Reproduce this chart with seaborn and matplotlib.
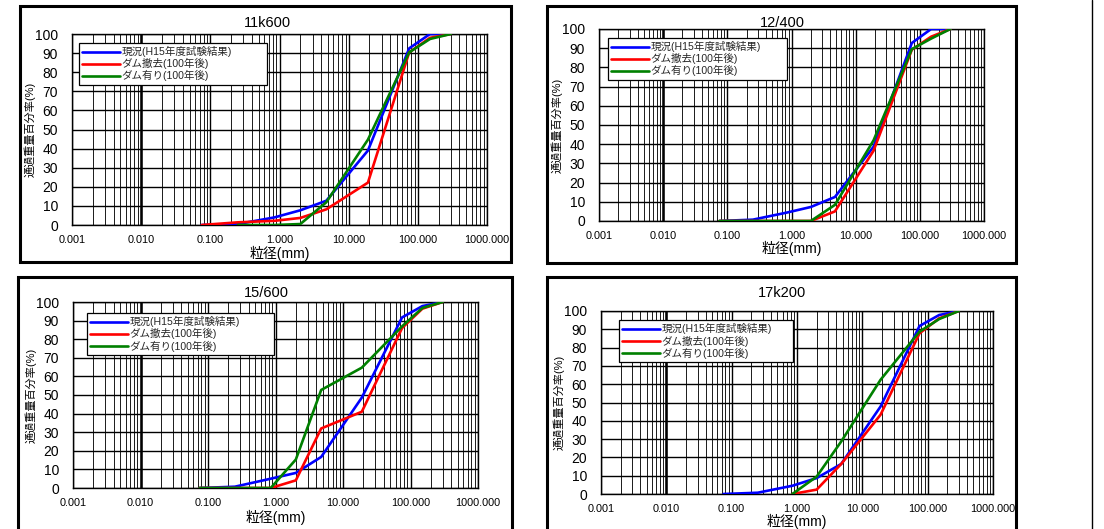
import numpy as np
import pandas as pd
import matplotlib
matplotlib.use("Agg")
import matplotlib.pyplot as plt
import matplotlib.ticker as mticker
from matplotlib.patches import Rectangle
from matplotlib.lines import Line2D
import seaborn as sns

sns.set_theme(style="white")
plt.rcParams["font.family"] = ["Liberation Sans", "Noto Sans CJK JP", "DejaVu Sans"]

# sieve sizes (mm)
sizes = [0.075, 0.25, 0.85, 2.0, 4.75, 19.0, 75.0, 150.0, 300.0]

series_names = ["現況(H15年度試験結果)", "ダム撤去(100年後)", "ダム有り(100年後)"]
series_colors = ["#0000FF", "#FF0000", "#008000"]

titles = ["11k600", "12/400", "15/600", "17k200"]

# percent passing for each section
p11k600_now = [0, 0.5, 4, 7.7, 12.7, 39, 92.5, 100, 100]
p11k600_removed = [0, 1.4, 2.2, 3.7, 8.2, 22.2, 90.4, 98, 100]
p11k600_dam = [np.nan, 0, 0, 0.5, 11.9, 44.7, 90.4, 97.4, 100]

p12_400_now = [0, 0.7, 4.4, 7.3, 12.5, 38.7, 92.7, 100, 100]
p12_400_removed = [0, 0, 0, 0, 5, 36.6, 89.2, 96, 100]
p12_400_dam = [0, 0, 0, 0, 8.4, 42, 89.5, 95, 100]

p15_600_now = [0, 0.7, 5, 8.1, 16.7, 48.6, 91.7, 97.8, 100]
p15_600_removed = [0, 0, 0, 4.1, 32, 41, 86, 96.4, 100]
p15_600_dam = [0, 0, 0, 15.3, 52.7, 64.7, 86.9, 96.8, 100]

p17k200_now = [0, 0.7, 4.5, 8.7, 16.4, 47.8, 91.8, 97.8, 100]
p17k200_removed = [np.nan, np.nan, 0, 2.4, 16.4, 43.3, 87.8, 96, 100]
p17k200_dam = [np.nan, np.nan, 0, 9.5, 28.7, 62.4, 88.7, 95.6, 100]

panel_values = [
    [p11k600_now, p11k600_removed, p11k600_dam],
    [p12_400_now, p12_400_removed, p12_400_dam],
    [p15_600_now, p15_600_removed, p15_600_dam],
    [p17k200_now, p17k200_removed, p17k200_dam],
]

xtick_vals = [0.001, 0.01, 0.1, 1, 10, 100, 1000]
xtick_labels = ["0.001", "0.010", "0.100", "1.000", "10.000", "100.000", "1000.000"]
ytick_vals = list(range(0, 101, 10))

W, H = 1104, 529
fig = plt.figure(figsize=(W / 100, H / 100), dpi=100)
fig.patch.set_facecolor("white")


def px_box(left, top, right, bottom):
    return [left / W, 1 - bottom / H, (right - left) / W, (bottom - top) / H]


# layout in pixels: axes box, frame box, title centre, legend box, x-label centre offset
layout = [
    dict(ax=(72, 34, 487, 225), frame=(20, 6, 511, 262), title=(267, 23), leg=(79, 45, 267), xl=28),
    dict(ax=(599, 29, 984, 221), frame=(547, 6, 1016, 263), title=(782, 23), leg=(608, 40, 787), xl=27),
    dict(ax=(73, 302, 478, 488), frame=(18, 277, 512, 545), title=(266, 293), leg=(87, 315, 274), xl=29),
    dict(ax=(601, 311, 993, 494), frame=(547, 277, 1016, 545), title=(782, 293), leg=(619, 322, 793), xl=27),
]

for i, lay in enumerate(layout):
    l, t, r, b = lay["ax"]
    ax = fig.add_axes(px_box(l, t, r, b))

    rows = []
    for name, vals in zip(series_names, panel_values[i]):
        for s, v in zip(sizes, vals):
            if not np.isnan(v):
                rows.append({"size": s, "pct": v, "series": name})
    df = pd.DataFrame(rows)

    sns.lineplot(data=df, x="size", y="pct", hue="series", hue_order=series_names,
                 palette=series_colors, estimator=None, sort=True, linewidth=1.9,
                 ax=ax, legend=False, zorder=5)

    ax.set_xscale("log")
    ax.set_xlim(0.001, 1000)
    ax.set_ylim(0, 100)
    ax.set_xticks(xtick_vals)
    ax.set_xticklabels(xtick_labels)
    ax.xaxis.set_minor_locator(mticker.LogLocator(base=10, subs=np.arange(2, 10), numticks=100))
    ax.xaxis.set_minor_formatter(mticker.NullFormatter())
    ax.set_yticks(ytick_vals)
    ax.grid(which="major", axis="both", color="black", linewidth=1.0)
    ax.grid(which="minor", axis="x", color="#1a1a1a", linewidth=0.7)
    ax.axvline(0.01, color="black", linewidth=1.8, zorder=2)
    ax.tick_params(axis="x", which="both", length=0, labelsize=7.8, pad=7, colors="black")
    ax.tick_params(axis="y", which="both", length=0, labelsize=10, pad=10, colors="black")
    for sp in ax.spines.values():
        sp.set_color("black")
        sp.set_linewidth(1.0)

    ax.set_xlabel("粒径(mm)", fontsize=10, color="black", va="center")
    ax.xaxis.set_label_coords(0.5, -lay["xl"] / (b - t))
    ax.set_ylabel("通過重量百分率(%)", fontsize=8, color="black", va="center")
    ax.yaxis.set_label_coords(-42 / (r - l), 0.5)

    fig.text(lay["title"][0] / W, 1 - lay["title"][1] / H, titles[i],
             ha="center", va="center", fontsize=10.5, color="black")

    ll, lt, lr = lay["leg"]
    handles = [Line2D([], [], color=c, linewidth=1.9) for c in series_colors]
    leg = ax.legend(handles, series_names,
                    loc="upper left",
                    bbox_to_anchor=((ll - l) / (r - l), (b - lt) / (b - t), (lr - ll) / (r - l), 0.01),
                    mode="expand", fontsize=7.6, frameon=True, fancybox=False,
                    edgecolor="black", framealpha=1, borderaxespad=0,
                    handlelength=3.6, handletextpad=0.1, labelspacing=0.08,
                    borderpad=0.3)
    leg.get_frame().set_linewidth(0.9)
    leg.set_zorder(10)

    fl, ft, fr, fb = lay["frame"]
    fig.patches.append(Rectangle((fl / W, 1 - fb / H), (fr - fl) / W, (fb - ft) / H,
                                 transform=fig.transFigure, fill=False,
                                 edgecolor="black", linewidth=2.2))

fig.add_artist(Line2D([1092 / W, 1092 / W], [0, 1], transform=fig.transFigure,
                      color="black", linewidth=1.0))

fig.savefig("out.png", dpi=100, facecolor="white")
